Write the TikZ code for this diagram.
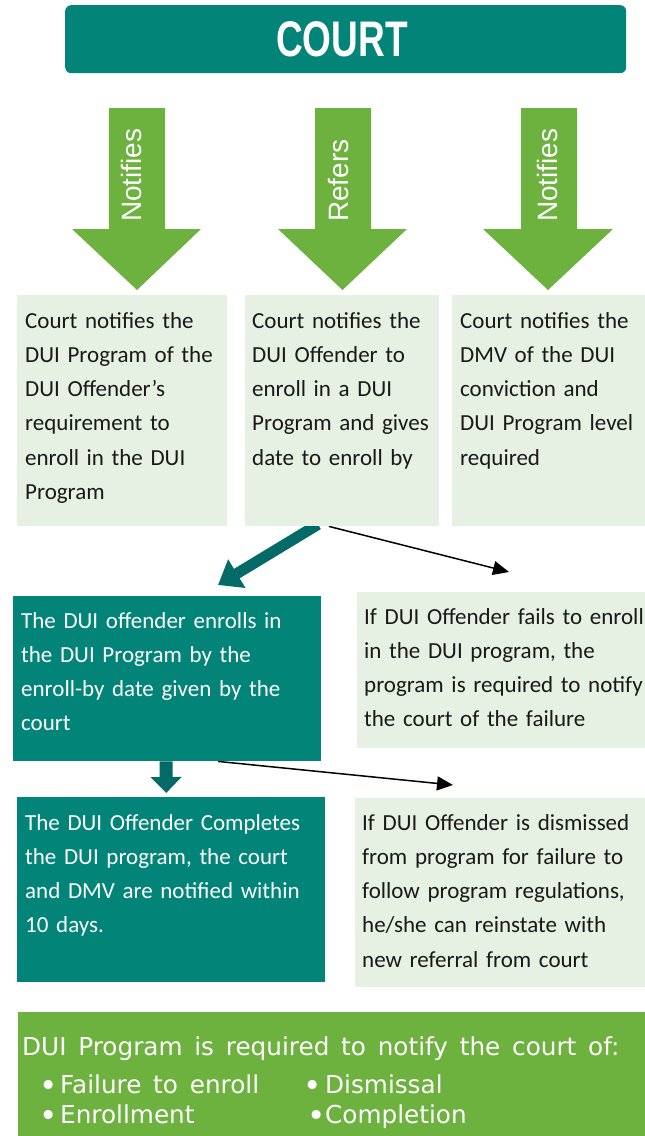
\documentclass[tikz,border=0pt]{standalone}
\usepackage{fontspec}
\setmainfont{Carlito}
\newfontfamily\arialf{Liberation Sans}
\newfontfamily\dejaf{DejaVu Sans}
\usetikzlibrary{arrows.meta,backgrounds}
\definecolor{teal1}{RGB}{2,132,121}
\definecolor{teal2}{RGB}{3,106,104}
\definecolor{green1}{RGB}{109,178,63}
\definecolor{light1}{RGB}{230,240,227}
\newcommand{\bigbul}{\smash{\raisebox{-3pt}{\fontsize{31}{30}\selectfont •}}}
\begin{document}
\begin{tikzpicture}[x=1pt,y=-1pt,
  boxbase/.style={draw=none, inner sep=0pt, anchor=north west},
  lbox/.style={boxbase, fill=light1},
  tbox/.style={boxbase, fill=teal1},
  gbox/.style={boxbase, fill=green1},
  btext/.style={inner sep=0pt, anchor=base west, text width=330pt, align=left,
    font=\fontsize{23}{34.3}\selectfont},
  darktext/.style={btext, text=black!90},
  whitetext/.style={btext, text=white},
  arrtext/.style={inner sep=0pt, anchor=west, rotate=90, text=white, font=\arialf\fontsize{28}{30}\selectfont},
  blockarrow/.style={fill=green1, draw=none},
  thinarrow/.style={-{Triangle[length=16pt,width=14pt]}, line width=1.5pt, black},
  thickarrow/.style={-{Triangle[length=22pt,width=32pt]}, line width=11pt, teal2},
  bottomtext/.style={inner sep=0pt, anchor=base west, text=white, font=\dejaf\fontsize{24.7}{30}\selectfont},
]
\useasboundingbox (0,0) rectangle (645,1136);

% COURT header
\node[tbox, rounded corners=6pt, minimum width=561pt, minimum height=68pt] (court) at (65,5) {};
\node[inner sep=0pt, text=white, font=\arialf\bfseries\fontsize{50}{50}\selectfont] (courttext) at (342,39) {\scalebox{0.74}[1]{COURT}};

% block arrows
\fill[blockarrow] (109,108) -- (165,108) -- (165,229) -- (201,229) -- (137,290) -- (72,229) -- (109,229) -- cycle;
\fill[blockarrow] (315,108) -- (371,108) -- (371,229) -- (407,229) -- (342.5,290) -- (278,229) -- (315,229) -- cycle;
\fill[blockarrow] (521,108) -- (577,108) -- (577,229) -- (613,229) -- (548,290) -- (483,229) -- (521,229) -- cycle;
\node[arrtext] (n1) at (131,222) {Notifies};
\node[arrtext] (n2) at (339,222) {Refers};
\node[arrtext] (n3) at (547,222) {Notifies};

% first row boxes
\node[lbox, minimum width=210pt, minimum height=231pt] (b1) at (17,295) {};
\node[lbox, minimum width=194pt, minimum height=231pt] (b2) at (245,295) {};
\node[lbox, minimum width=193pt, minimum height=231pt] (b3) at (452,295) {};
\node[darktext] (t1) at (25,328) {Court notifies the\\DUI Program of the\\DUI Offender’s\\requirement to\\enroll in the DUI\\Program};
\node[darktext] (t2) at (252,328) {Court notifies the\\DUI Offender to\\enroll in a DUI\\Program and gives\\date to enroll by};
\node[darktext] (t3) at (460,328) {Court notifies the\\DMV of the DUI\\conviction and\\DUI Program level\\required};

% second row
\node[tbox, minimum width=308pt, minimum height=165pt] (b4) at (13,596) {};
\node[lbox, minimum width=288pt, minimum height=156pt] (b5) at (357,592) {};
\node[whitetext] (t4) at (21,628) {The DUI offender enrolls in\\the DUI Program by the\\enroll-by date given by the\\court};
\node[darktext] (t5) at (364,624) {If DUI Offender fails to enroll\\in the DUI program, the\\program is required to notify\\the court of the failure};

% third row
\node[tbox, minimum width=308pt, minimum height=185pt] (b6) at (17,797) {};
\node[lbox, minimum width=290pt, minimum height=189pt] (b7) at (355,798) {};
\node[whitetext] (t6) at (25,830) {The DUI Offender Completes\\the DUI program, the court\\and DMV are notified within\\10 days.};
\node[darktext] (t7) at (362,830) {If DUI Offender is dismissed\\from program for failure to\\follow program regulations,\\he/she can reinstate with\\new referral from court};

% bottom box
\node[gbox, minimum width=627pt, minimum height=124pt] (b8) at (18,1012) {};
\node[bottomtext] (h8) at (22,1055) {\spaceskip=11.8pt\relax DUI Program is required to notify the court of:};
\node[bottomtext] (i1) at (39,1093) {\makebox[21pt][l]{\bigbul}\spaceskip=11.8pt\relax Failure to enroll};
\node[bottomtext] (i2) at (303,1093) {\makebox[22pt][l]{\bigbul}Dismissal};
\node[bottomtext] (i3) at (39,1123) {\makebox[21pt][l]{\bigbul}Enrollment};
\node[bottomtext] (i4) at (307,1123) {\makebox[18pt][l]{\bigbul}Completion};

% connectors
\coordinate (e1) at (218,585);
\coordinate (e2) at (509,572);
\coordinate (e3) at (453,785);
\begin{scope}[on background layer]
\draw[thickarrow] ([xshift=73pt,yshift=2pt]b2.south west) -- (e1);
\draw[thinarrow] ([xshift=84pt]b2.south west) -- (e2);
\draw[thinarrow] ([xshift=205pt]b4.south west) -- (e3);
\draw[-{Triangle[length=16pt,width=30pt]}, line width=13pt, teal2] ([xshift=153pt]b4.south west) -- ([xshift=-5pt,yshift=4pt]b6.north);
\end{scope}
\end{tikzpicture}
\end{document}
